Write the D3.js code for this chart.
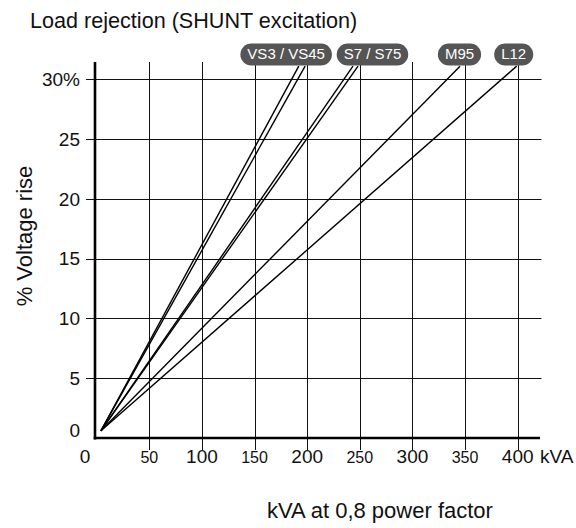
<!DOCTYPE html>
<html>
<head>
<meta charset="utf-8">
<script src="https://cdn.jsdelivr.net/npm/d3@7"></script>
<style>
  html, body { margin: 0; padding: 0; background: #fff; }
  svg { display: block; font-family: "Liberation Sans", Arial, sans-serif; }
</style>
</head>
<body>
<svg id="chart" width="576" height="528"></svg>
<script>
// ---- data ----
const seriesNames = ["VS3", "VS45", "S7", "S75", "M95", "L12"];
const startKva = [4, 4, 4, 4, 4, 4];
const startRise = [0.6, 0.6, 0.6, 0.6, 0.6, 0.6];
const endKva = [192, 198, 243.5, 248.3, 345.2, 399];
const endRise = [31.1, 31.1, 31.1, 31.1, 31.1, 31.1];
const labelTexts = ["VS3 / VS45", "S7 / S75", "M95", "L12"];
const labelKva = [180, 262, 344.7, 396.2];
const xTicks = [0, 50, 100, 150, 200, 250, 300, 350, 400];
const xTickLabels = ["0", "50", "100", "150", "200", "250", "300", "350", "400"];
const yTicks = [0, 5, 10, 15, 20, 25, 30];
const yTickLabels = ["0", "5", "10", "15", "20", "25", "30%"];

// ---- layout ----
const svg = d3.select("#chart");
const x = d3.scaleLinear().domain([0, 400]).range([96.7, 517.7]);
const y = d3.scaleLinear().domain([0, 30]).range([438, 79.3]);
const yTop = 62, xRight = 541.5;

// grid: horizontal
svg.append("g").selectAll("line").data(yTicks.filter(d => d > 0)).join("line")
  .attr("x1", 86).attr("x2", xRight)
  .attr("y1", d => Math.round(y(d)) + 0.5).attr("y2", d => Math.round(y(d)) + 0.5)
  .attr("stroke", "#111").attr("stroke-width", 1);
// grid: vertical
svg.append("g").selectAll("line").data(xTicks.filter(d => d > 0)).join("line")
  .attr("x1", d => Math.round(x(d)) + 0.5).attr("x2", d => Math.round(x(d)) + 0.5)
  .attr("y1", yTop).attr("y2", 450)
  .attr("stroke", "#111").attr("stroke-width", 1);

// axes lines
svg.append("line").attr("x1", 95).attr("x2", 95).attr("y1", yTop).attr("y2", 439.5)
  .attr("stroke", "#000").attr("stroke-width", 2.6);
svg.append("line").attr("x1", 93.7).attr("x2", 540).attr("y1", 438).attr("y2", 438)
  .attr("stroke", "#000").attr("stroke-width", 2.6);

// series lines
const lineGen = d3.line().x(d => x(d[0])).y(d => y(d[1]));
svg.append("g").selectAll("path").data(seriesNames.map((n, i) => [[startKva[i], startRise[i]], [endKva[i], endRise[i]]]))
  .join("path")
  .attr("d", lineGen)
  .attr("fill", "none").attr("stroke", "#000").attr("stroke-width", 1.4);

// y tick labels
svg.append("g").selectAll("text").data(yTicks).join("text")
  .attr("x", 80).attr("y", (d) => d === 0 ? 430 : y(d))
  .attr("dy", "0.35em").attr("text-anchor", "end")
  .attr("font-size", 19).attr("fill", "#111")
  .text((d, i) => yTickLabels[i]);

// x tick labels
svg.append("g").selectAll("text").data(xTicks).join("text")
  .attr("x", d => d === 0 ? 85 : x(d)).attr("y", 463)
  .attr("text-anchor", "middle")
  .attr("font-size", d => d % 100 === 0 ? 19 : 16).attr("fill", "#111")
  .text((d, i) => xTickLabels[i]);
svg.append("text").attr("x", 540).attr("y", 463).attr("font-size", 19).attr("fill", "#111").text("kVA");

// pill labels
const pills = svg.append("g").selectAll("g").data(labelTexts).join("g")
  .attr("transform", (d, i) => `translate(${x(labelKva[i])},54)`);
pills.append("text")
  .attr("text-anchor", "middle").attr("dy", "0.36em")
  .attr("font-size", 15).attr("fill", "#fff")
  .text(d => d);
pills.each(function() {
  const g = d3.select(this);
  const bb = g.select("text").node().getBBox();
  const w = bb.width + 14, h = 22;
  g.insert("rect", "text").attr("x", -w / 2).attr("y", -h / 2 + 0.5)
    .attr("width", w).attr("height", h).attr("rx", 11).attr("ry", 11)
    .attr("fill", "#555");
});

// titles
svg.append("text").attr("x", 30).attr("y", 28).attr("font-size", 21.6).attr("fill", "#111")
  .text("Load rejection (SHUNT excitation)");
svg.append("text").attr("transform", "translate(32,236) rotate(-90)")
  .attr("text-anchor", "middle").attr("font-size", 22).attr("fill", "#111")
  .text("% Voltage rise");
svg.append("text").attr("x", 380).attr("y", 518).attr("text-anchor", "middle")
  .attr("font-size", 22).attr("fill", "#111")
  .text("kVA at 0,8 power factor");
</script>
</body>
</html>
